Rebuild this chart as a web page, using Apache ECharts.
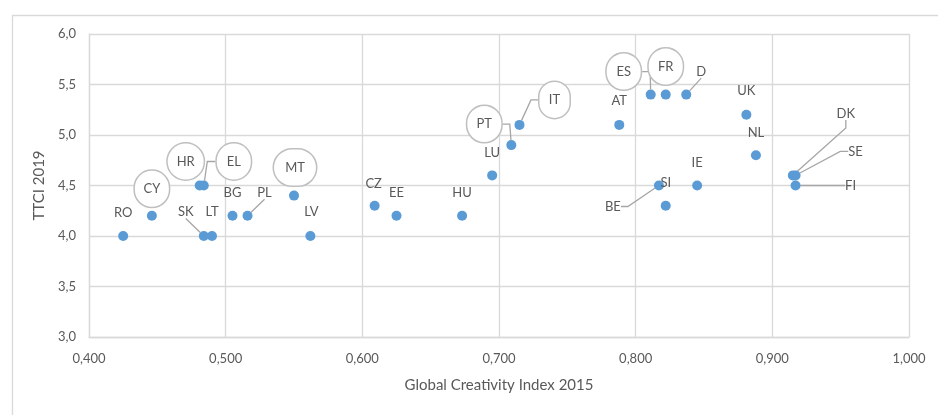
<!DOCTYPE html>
<html>
<head>
<meta charset="utf-8">
<script src="https://cdn.jsdelivr.net/npm/echarts@6/dist/echarts.min.js"></script>
<style>html,body{margin:0;padding:0;background:#fff}#c{width:938px;height:415px}</style>
</head>
<body>
<div id="c"></div>
<script>
// ---- data ----
var countries = ['RO','CY','HR','EL','SK','LT','BG','PL','MT','LV','CZ','EE','HU','LU','PT','IT','AT','ES','FR','D','UK','NL','IE','BE','SI','DK','SE','FI'];
var gci2015   = [0.425,0.446,0.481,0.484,0.484,0.490,0.505,0.516,0.550,0.562,0.609,0.625,0.673,0.695,0.709,0.715,0.788,0.811,0.822,0.837,0.881,0.888,0.845,0.817,0.822,0.915,0.917,0.917];
var ttci2019  = [4.0,4.2,4.5,4.5,4.0,4.0,4.2,4.2,4.4,4.0,4.3,4.2,4.2,4.6,4.9,5.1,5.1,5.4,5.4,5.4,5.2,4.8,4.5,4.5,4.3,4.6,4.6,4.5];
var xTicks = {min: 0.4, max: 1.0, interval: 0.1};
var yTicks = {min: 3.0, max: 6.0, interval: 0.5};

// ---- label styling (offsets of label centre from its point, in px) ----
var labelOffset = {
  RO:[0,-23], CY:[0,-27], HR:[-14,-24], EL:[30,-24], SK:[-18,-24], LT:[0,-24], BG:[0,-23], PL:[17,-23],
  MT:[1,-28], LV:[1,-24], CZ:[-1,-22], EE:[0,-23], HU:[0,-23], LU:[0,-23], PT:[-27,-21], IT:[35,-25],
  AT:[0,-24], ES:[-27,-23], FR:[0,-28], D:[15,-23], UK:[0,-24], NL:[0,-22], IE:[0,-23], BE:[-46,21],
  SI:[0,-23], DK:[53,-62], SE:[60,-24], FI:[55,0]
};
var callout = {CY:34, HR:36, EL:34, MT:42, PT:34, IT:30, ES:34, FR:34};
var leader = {EL:8, SK:0, PL:0, PT:7, IT:7, ES:8, D:0, BE:7, DK:8, SE:8, FI:10};

var FONT = 'Lato';
var TXT = '#595959';
var GRIDC = '#d9d9d9';

var seriesData = countries.map(function (n, i) {
  var item = {name: n, value: [gci2015[i], ttci2019[i]]};
  if (callout[n]) {
    item.label = {
      backgroundColor: '#fff', borderColor: '#bfbfbf', borderWidth: 1.5,
      width: callout[n], height: 36, lineHeight: 36, borderRadius: 18, align: 'center'
    };
  }
  if (leader[n] !== undefined) {
    item.labelLine = {show: true, length2: leader[n], lineStyle: {color: '#a6a6a6', width: 1.3}};
  }
  return item;
});

var chart = echarts.init(document.getElementById('c'), null, {renderer: 'canvas'});
chart.setOption({
  animation: false,
  backgroundColor: '#fff',
  textStyle: {fontFamily: FONT},
  graphic: [{
    type: 'rect', left: 10, top: 13, silent: true,
    shape: {width: 960, height: 440},
    style: {fill: 'none', stroke: GRIDC, lineWidth: 1.3}
  }],
  grid: {left: 89, right: 29, top: 34, bottom: 78},
  xAxis: {
    type: 'value', min: xTicks.min, max: xTicks.max, interval: xTicks.interval,
    name: 'Global Creativity Index 2015', nameLocation: 'middle', nameGap: 41,
    nameTextStyle: {fontFamily: FONT, fontSize: 15, color: TXT},
    axisLine: {show: true, lineStyle: {color: GRIDC, width: 1.3}},
    axisTick: {show: false},
    splitLine: {show: true, lineStyle: {color: GRIDC, width: 1.3}},
    axisLabel: {fontFamily: FONT, fontSize: 13, color: TXT, margin: 15,
      formatter: function (v) { return v.toFixed(3).replace('.', ','); }}
  },
  yAxis: {
    type: 'value', min: yTicks.min, max: yTicks.max, interval: yTicks.interval,
    name: 'TTCI 2019', nameLocation: 'middle', nameGap: 38,
    nameTextStyle: {fontFamily: FONT, fontSize: 15, color: TXT},
    axisLine: {show: true, lineStyle: {color: GRIDC, width: 1.3}},
    axisTick: {show: false},
    splitLine: {show: true, lineStyle: {color: GRIDC, width: 1.3}},
    axisLabel: {fontFamily: FONT, fontSize: 13, color: TXT, margin: 13,
      formatter: function (v) { return v.toFixed(1).replace('.', ','); }}
  },
  series: [{
    type: 'scatter',
    symbol: 'circle', symbolSize: 10,
    itemStyle: {color: '#5b9bd5', opacity: 1},
    data: seriesData,
    label: {
      show: true, position: 'inside', formatter: '{b}',
      fontFamily: FONT, fontSize: 13, color: TXT
    },
    labelLayout: function (p) {
      var o = labelOffset[countries[p.dataIndex]] || [0, -23];
      return {dx: o[0], dy: o[1]};
    },
    labelLine: {show: false}
  }]
});
</script>
</body>
</html>
